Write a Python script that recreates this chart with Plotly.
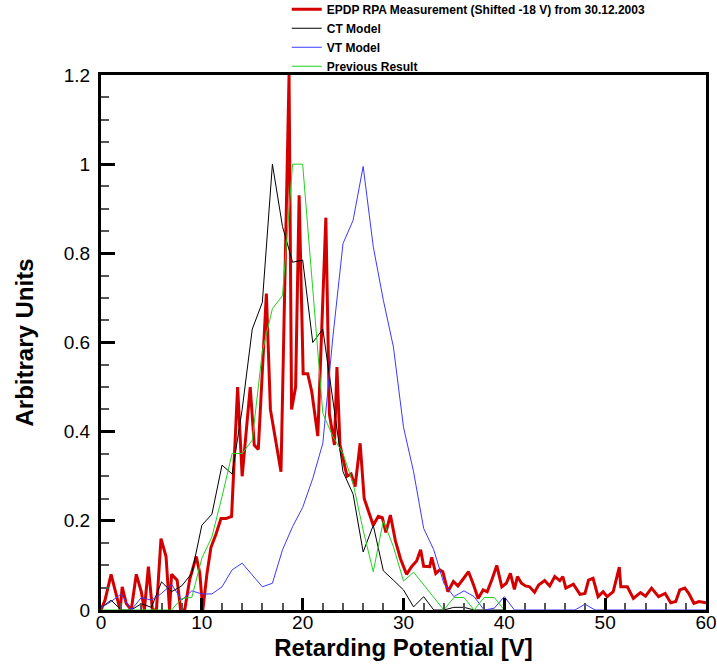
import plotly.graph_objects as go

# ---------------- data ----------------
model_v = list(range(0, 61))

ct_model = [0.005, 0.022, 0, 0, 0.014, 0.006, 0.063, 0.041, 0.054, 0.082,
            0.19, 0.215, 0.325, 0.305, 0.45, 0.63, 0.69, 1.0, 0.86, 0.78,
            0.785, 0.6, 0.63, 0.47, 0.31, 0.26, 0.13, 0.19, 0.088, 0.067,
            0.045, 0.007, 0.03, 0, 0, 0.006, 0.006, 0, 0, 0, 0]

vt_model = [0.005, 0.019, 0.036, 0, 0.028, 0.022, 0.037, 0.058, 0.022, 0.043,
            0.036, 0.036, 0.052, 0.09, 0.105, 0.078, 0.052, 0.06, 0.135, 0.187,
            0.23, 0.295, 0.374, 0.613, 0.822, 0.874, 0.995, 0.815, 0.695, 0.59,
            0.41, 0.31, 0.183, 0.135, 0.06, 0.03, 0.043, 0.03, 0, 0.004,
            0.03, 0, 0, 0, 0, 0, 0, 0, 0.013, 0,
            0, 0, 0, 0, 0, 0, 0, 0, 0, 0, 0]

prev_result = [0, 0, 0, 0, 0, 0, 0, 0, 0.026, 0.028,
               0.116, 0.164, 0.254, 0.351, 0.351, 0.381, 0.58, 0.676, 0.705, 1.0,
               1.0, 0.71, 0.441, 0.389, 0.351, 0.284, 0.179, 0.086, 0.2, 0.142,
               0.065, 0.085, 0.057, 0.028, 0, 0.028, 0.028, 0, 0.028, 0.028, 0]

epdp_v = [0.0, 0.4, 1.0, 1.5, 1.9, 2.1, 2.5, 3.0, 3.5, 4.0,
          4.3, 4.7, 5.1, 5.5, 5.95, 6.45, 6.8, 7.0, 7.55, 7.9,
          8.3, 8.8, 9.45, 9.8, 10.1, 10.5, 10.9, 11.4, 11.9, 12.4,
          12.95, 13.55, 14.0, 14.8, 15.2, 15.6, 16.4, 16.8, 17.3, 17.85,
          18.65, 18.9, 19.3, 19.65, 20.05, 20.5, 20.9, 21.5, 22.3, 22.65,
          23.15, 23.4, 23.7, 24.4, 24.8, 25.2, 25.7, 26.1, 27.0, 27.5,
          27.9, 28.25, 28.7, 29.2, 29.7, 30.3, 30.8, 31.3, 31.7, 32.0,
          32.6, 32.8, 33.2, 33.6, 33.9, 34.4, 34.95, 35.4, 35.9, 36.45,
          36.95, 37.4, 37.9, 38.3, 38.8, 39.25, 39.75, 40.2, 40.6, 41.0,
          41.3, 41.7, 42.1, 42.5, 43.0, 43.4, 44.0, 44.5, 45.0, 45.5,
          45.8, 46.1, 46.85, 47.5, 48.0, 48.35, 48.8, 49.3, 49.8, 50.2,
          50.8, 51.4, 51.55, 52.2, 52.8, 53.5, 54.0, 54.6, 55.3, 55.95,
          56.5, 57.0, 57.4, 57.9, 58.3, 58.8, 59.3, 59.8, 60.0]

epdp_meas = [0.0, 0.022, 0.08, 0.037, 0.0, 0.052, 0.015, 0.0, 0.08, 0.041,
             0.0, 0.097, 0.0, 0.0, 0.16, 0.12, 0.0, 0.08, 0.067, 0.0,
             0.0, 0.069, 0.12, 0.082, 0.0, 0.08, 0.14, 0.17, 0.205, 0.205,
             0.21, 0.5, 0.3, 0.5, 0.37, 0.36, 0.71, 0.45, 0.38, 0.31,
             1.2, 0.45, 0.5, 0.93, 0.53, 0.53, 0.49, 0.39, 0.88, 0.44,
             0.37, 0.545, 0.37, 0.3, 0.305, 0.277, 0.374, 0.25, 0.19, 0.21,
             0.207, 0.174, 0.213, 0.155, 0.115, 0.08, 0.097, 0.11, 0.135, 0.098,
             0.097, 0.118, 0.082, 0.09, 0.086, 0.041, 0.064, 0.054, 0.069, 0.086,
             0.056, 0.026, 0.045, 0.041, 0.07, 0.1, 0.052, 0.06, 0.082, 0.046,
             0.075, 0.06, 0.054, 0.052, 0.04, 0.056, 0.066, 0.054, 0.075, 0.066,
             0.075, 0.049, 0.058, 0.035, 0.037, 0.067, 0.071, 0.03, 0.041, 0.03,
             0.041, 0.096, 0.052, 0.052, 0.026, 0.039, 0.031, 0.049, 0.03, 0.037,
             0.016, 0.019, 0.045, 0.049, 0.037, 0.015, 0.019, 0.016, 0.016]

x_ticks = [0, 10, 20, 30, 40, 50, 60]
y_ticks = [0, 0.2, 0.4, 0.6, 0.8, 1.0, 1.2]
y_tick_text = ["0", "0.2", "0.4", "0.6", "0.8", "1", "1.2"]

# ---------------- figure ----------------
fig = go.Figure()
fig.add_trace(go.Scatter(x=epdp_v, y=epdp_meas, mode="lines",
                         name="EPDP RPA Measurement (Shifted -18 V) from 30.12.2003",
                         line=dict(color="#d40000", width=3)))
fig.add_trace(go.Scatter(x=model_v[:len(ct_model)], y=ct_model, mode="lines",
                         name="CT Model", line=dict(color="#000000", width=1)))
fig.add_trace(go.Scatter(x=model_v[:len(vt_model)], y=vt_model, mode="lines",
                         name="VT Model", line=dict(color="#3a3aff", width=1)))
fig.add_trace(go.Scatter(x=model_v[:len(prev_result)], y=prev_result, mode="lines",
                         name="Previous Result", line=dict(color="#1fd21f", width=1)))

axis_font = dict(family="Liberation Sans, Arial, sans-serif", size=19, color="#000")
title_font = dict(family="Liberation Sans, Arial, sans-serif", size=24, color="#000")

fig.update_layout(
    width=717, height=664,
    margin=dict(l=101, r=11, t=75, b=54, autoexpand=False),
    paper_bgcolor="white", plot_bgcolor="white",
    showlegend=True,
    legend=dict(x=0.307, y=1.15, xanchor="left", yanchor="top",
                bgcolor="rgba(0,0,0,0)", borderwidth=0,
                font=dict(family="Liberation Sans, Arial, sans-serif", size=12, color="#000", weight="bold"),
                tracegroupgap=0, itemwidth=30),
    xaxis=dict(range=[0, 60], tickvals=x_ticks, ticktext=[str(v) for v in x_ticks],
               showgrid=False, zeroline=False,
               showline=True, linewidth=3, linecolor="#000", mirror=True,
               ticks="inside", ticklen=12, tickwidth=3, tickcolor="#000",
               tickfont=axis_font, ticklabelstandoff=-7,
               minor=dict(dtick=2, ticks="inside", ticklen=7, tickwidth=1.5, tickcolor="#555", showgrid=False),
               title=dict(text="<b>Retarding Potential [V]</b>", font=title_font, standoff=8)),
    yaxis=dict(range=[0, 1.2], tickvals=y_ticks, ticktext=y_tick_text,
               showgrid=False, zeroline=False,
               showline=True, linewidth=3, linecolor="#000", mirror=True,
               ticks="inside", ticklen=14, tickwidth=3, tickcolor="#000",
               tickfont=axis_font, ticklabelstandoff=4,
               minor=dict(dtick=0.05, ticks="inside", ticklen=8, tickwidth=1.5, tickcolor="#555", showgrid=False),
               title=dict(text="<b>Arbitrary Units</b>", font=title_font, standoff=24)),
)

fig.write_html("out.html")
